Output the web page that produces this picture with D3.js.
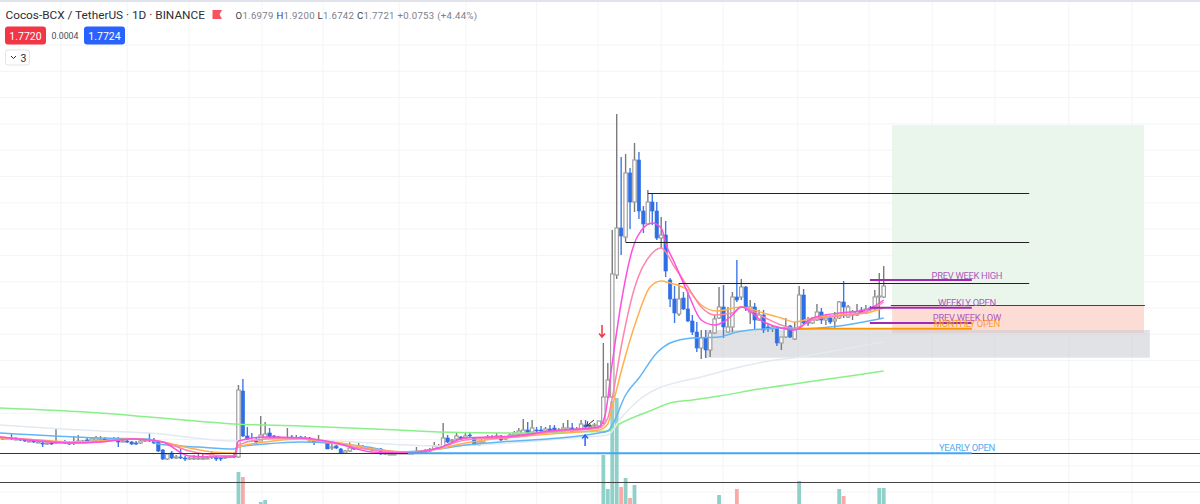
<!DOCTYPE html>
<html lang="en">
<head>
  <meta charset="utf-8">
  <title>Cocos-BCX / TetherUS</title>
  <style>
    html, body { margin:0; padding:0; background:#fff; overflow:hidden; }
    svg { display:block; }
    text { font-family:Roboto, sans-serif; }
    .grid line { stroke:#f3f4f6; stroke-width:1; }
    .wick { stroke-width:1.4; }
    .up .wick { stroke:#7b7b7b; }
    .down .wick { stroke:#3f78e8; }
    .up .body { fill:#fff; stroke:#a0a0a0; stroke-width:1.2; }
    .down .body { fill:#2f6fe6; stroke:#2f6fe6; stroke-width:.6; }
    .ema { fill:none; stroke-width:1.5; }
    .tag { font-size:9.4px; letter-spacing:-.3px; text-anchor:middle; dominant-baseline:central; }
    .ohlc { font-size:9.6px; fill:#7d808a; letter-spacing:.3px; }
    .ohlc .k { fill:#3a3d47; }
  </style>
</head>
<body>
  <div id="page"></div>
  <script src="https://d3js.org/d3.v7.min.js"></script>
  <script>
    // no price axis on the screenshot, levels are read off the picture in rough cents
    // [open, high, low, close], one row per day
    var candles = [
      [29,31,28,30],[30,31,29,30],[30,35,28,29],[29,31,28,29],[29,30,27,28],[28,29,26,27],[27,29,26,27],[27,28,25,26],
      [26,28,25,26],[25,27,21,24],[24,25,23,25],[25,26,23,24],[25,40,24,26],[26,27,25,26],[26,28,24,25],[25,27,23,24],
      [25,32,23,26],[26,33,25,27],[27,28,26,27],[28,31,26,27],[27,31,26,29],[28,32,27,30],[29,32,27,29],[29,31,27,28],
      [28,30,27,29],[29,31,28,29],[29,31,21,26],[27,28,26,27],[27,29,25,26],[26,27,23,24],[25,27,23,24],[25,28,24,27],
      [27,29,26,28],[28,35,26,27],[28,30,24,25],[26,27,16,17],[18,19,8,9],[9,15,8,14],[15,17,9,10],[11,13,9,11],
      [11,20,9,10],[10,12,7,9],[10,11,8,10],[10,13,8,10],[9,15,8,10],[10,14,8,10],[10,12,9,10],[11,17,9,14],
      [11,12,7,9],[10,11,7,9],[10,12,9,11],[11,13,10,12],[12,14,10,11],
      [11,83,10,78],[77,89,31,32],[32,41,26,27],[28,35,26,27],[27,31,24,26],[27,52,27,33],[30,46,28,34],[35,40,30,31],
      [32,33,30,31],[31,32,29,30],[30,31,29,30],[29,40,28,30],[31,33,29,30],[29,33,28,30],[31,32,29,30],[30,32,29,30],
      [30,31,26,27],[27,28,23,26],[26,33,25,27],[27,28,25,27],[27,28,19,19],[20,24,18,21],[22,23,19,20],[19,20,14,15],
      [15,18,14,17],[17,27,16,20],[20,21,18,19],[19,25,18,22],[21,23,19,20],[20,21,18,19],[19,20,17,18],[19,20,17,18],
      [19,20,13,14],[14,16,13,15],[14,15,13,14],[14,15,13,14],[15,16,14,15],[15,16,14,15],[15,16,14,15],[15,16,14,15],
      [15,21,14,16],[16,18,15,16],[16,19,15,17],[17,20,16,18],[19,26,18,22],[20,24,19,22],[20,45,19,30],[30,33,25,26],
      [27,29,26,28],[29,35,28,32],[31,32,28,29],[30,36,29,32],[33,35,31,32],[30,31,22,23],[23,27,22,26],[26,31,25,30],
      [29,33,28,31],[30,33,29,31],[31,35,30,32],[32,33,27,28],[29,32,28,30],[31,35,30,33],[33,37,32,35],[34,40,33,37],
      [34,49,33,38],[38,46,34,35],[36,48,35,40],[38,41,34,37],[38,42,35,37],[37,41,36,39],[39,43,35,37],[40,43,36,36],
      [37,40,36,38],[36,45,35,40],[38,48,37,40],[40,45,36,36],[37,41,36,39],[39,48,38,44],[43,48,40,41],[41,44,40,42],
      [42,45,41,43],[42,47,41,47],
      [45,125,44,71],[71,105,70,88],[71,238,70,194],[193,354,189,240],[240,311,213,232],[231,314,226,295],[295,300,239,266],
      [266,325,256,308],[308,316,249,257],[257,262,235,244],[244,278,243,266],[266,275,243,257],[257,266,228,230],
      [230,251,220,233],[233,247,191,197],[188,190,161,169],[169,182,145,155],[154,185,152,169],[170,176,158,159],
      [159,176,146,147],[147,153,133,136],[136,146,116,120],[120,138,109,130],[130,138,110,118],[118,138,111,135],
      [135,153,134,149],[150,181,149,161],[161,183,130,141],[136,161,135,141],[141,176,136,171],[171,208,166,168],
      [171,189,168,181],[181,182,157,161],[156,168,144,161],[161,165,138,148],[148,158,147,153],[153,158,135,138],
      [141,144,136,139],[139,143,136,141],[140,142,122,125],[125,131,118,131],[131,150,130,141],[142,143,130,131],
      [129,146,128,139],[139,182,138,173],[173,179,143,145],[147,151,142,145],[145,150,144,148],[148,164,147,156],
      [156,160,144,148],[148,153,143,150],[150,152,144,146],[147,156,140,149],[150,167,149,166],[166,187,150,161],
      [151,163,150,161],[153,158,148,156],[153,164,152,156],[158,161,154,155],[155,163,154,159],[160,162,157,158],
      [159,178,158,171],[171,195,149,172],[171,202,170,182]
    ];

    // volume only shows above the bottom edge on these days
    var volumeDays = [53,54,58,59,135,136,137,138,139,140,141,142,161,165,179,188,189,197,198];
    var volumes = [32,27,2,4,49,15,103,106,17,26,6,19,9,15,23,15,8,16,16];

    // moving averages, read at the bends
    var greenDays = [-0.6,22,33,52,67,89,98,115,128,136,139,146,150,155,161,170,184,198];
    var greenLevels = [60,55,51,44,42,38,36,35,36,37,45,58,65,68,72,79,88,97];
    var paleDays = [-0.6,22,33,52,60,70,98,128,136,139,143,148,152,157,162,171,179,188,198];
    var paleLevels = [43,37,35,27,29,28,22,30,33,50,68,81,86,91,97,106,111,118,126];
    var blueDays = [-0.6,22,33,35,44,52,53,59,67,82,89,98,104,112,125,134,136,137,140,143,147,150,155,161,165,171,175,178,188,198];
    var blueLevels = [35,30,29,24,21,19,21,24,26,21,16,19,23,26,30,35,37,43,73,90,115,125,130,131,136,139,140,139,142,150];
    var orangeDays = [-0.6,8,15,22,29,33,36,42,47,52,53,59,67,71,76,83,91,98,104,115,123,134,136,137,139.4,142.6,145.5,148,150,154,157,160.5,166,171,175,178,182,188,194,198];
    var orangeLevels = [30,28,26,27,29,28,26,20,16,15,21,26,29,27,25,19,16,19,25,31,34,38,44,61,103,150,181,187,185,178,163,157,161,155,150,146,150,153,155,160];
    var salmonDays = [-0.6,8,15,22,29,33,36,42,47,52,53,59,67,74,83,91,98,104,115,123,134,136,137,139,142,146,148,151,154,157,160,164,166,171,175,178,182,188,194,198];
    var salmonLevels = [31,28,25,26,29,28,26,17,13,12,23,29,30,25,18,16,20,28,31,36,40,50,70,121,180,215,220,201,181,161,153,155,161,151,143,140,148,152,156,166];
    var magentaDays = [-0.6,8,15,22,29,33,36,42,47,52,53,59,67,74,83,91,98,104,115,123,134,135.4,137,139,141.5,142.6,146,148,149.3,150.7,154,157,160,162,164,166,171,175,178,182,188,194,198];
    var magentaLevels = [31,27,25,26,29,28,26,12,11,11,27,31,30,26,16,15,20,30,32,37,41,53,105,165,218,231,245,240,221,208,175,148,143,146,153,161,146,140,138,150,155,158,168];

    var gridDays = [13.1,28,41.9,58.3,72,89.1,104.1,120,133.8,148,161.9,178.7,194.7,208.9,223,239.6,253.8];
    var gridLevels = [423,396.7,370.4,344.1,317.8,291.5,265.2,238.9,212.6,186.3,160,133.7,107.4,81.1,54.8,28.5,2.2,-24.1];

    // drawn levels: [day from, day to, level, colour, width]
    var drawnLines = [
      [145,230.7,274.5,"#222",1],
      [140,230.7,225.5,"#222",1],
      [152,230.7,184.5,"#222",1],
      [199.6,256.7,162.5,"#444",1],
      [-1,270,14.5,"#333",1.2],
      [-1,270,-14.5,"#444",1.2],
      [91.1,217.8,14.7,"#42a5f5",2],
      [194.9,217.8,188,"#a12ab3",2],
      [194.9,217.8,160.3,"#a12ab3",2],
      [194.9,217.8,145,"#a12ab3",2],
      [179.2,217.8,139.3,"#ff9800",2]
    ];
    var tagNames = ["PREV WEEK HIGH","WEEKLY OPEN","PREV WEEK LOW","MONTHLY OPEN","YEARLY OPEN"];
    var tagLevels = [193,166,151,145,21];
    var tagColours = ["#ab5cbd","#ab5cbd","#b255c0","#ff9d33","#55aaf2"];

    var W = 1200, H = 504;

    var x = d3.scaleLinear().domain([0,198]).range([2.6,883.7]);
    var y = d3.scaleLinear().domain([0,468]).range([468,0]);
    var volumeY = d3.scaleLinear().domain([0,504]).range([504,0]);

    var svg = d3.select("#page").append("svg").attr("width",W).attr("height",H);

    svg.append("rect").attr("width",W).attr("height",2).attr("fill","#e0e3eb");

    // grid
    var grid = svg.append("g").attr("class","grid");
    grid.selectAll(".v").data(gridDays).enter().append("line").attr("class","v")
        .attr("x1",x).attr("x2",x).attr("y1",2).attr("y2",H);
    grid.selectAll(".h").data(gridLevels).enter().append("line").attr("class","h")
        .attr("x1",0).attr("x2",W).attr("y1",y).attr("y2",y);

    // position tool and support box
    function zone(d0, d1, top, bottom, colour){
      svg.append("rect")
          .attr("x",x(d0)).attr("width",x(d1) - x(d0))
          .attr("y",y(top)).attr("height",y(bottom) - y(top))
          .attr("fill",colour);
    }
    zone(199.9,256.5,343,162.5,"#eaf5eb");
    zone(199.9,256.5,162.5,135,"#fddcd6");
    zone(157.8,257.8,138,110.3,"rgba(200,202,207,.55)");

    // volume
    svg.append("g").selectAll("rect").data(volumeDays).enter().append("rect")
        .attr("x",function(d){ return x(d) - 1.9; })
        .attr("width",3.8)
        .attr("y",function(d, i){ return volumeY(volumes[i]); })
        .attr("height",function(d, i){ return H - volumeY(volumes[i]); })
        .attr("fill",function(d){
          var c = candles[d];
          return c[3] >= c[0] ? "#8fd0c8" : "#f7aaa6";
        });

    // candles
    var candle = svg.append("g").selectAll("g").data(candles).enter().append("g")
        .attr("class",function(d){ return d[3] >= d[0] ? "up" : "down"; });
    candle.append("line").attr("class","wick")
        .attr("x1",function(d, i){ return x(i); })
        .attr("x2",function(d, i){ return x(i); })
        .attr("y1",function(d){ return y(d[1]); })
        .attr("y2",function(d){ return y(d[2]); });
    candle.append("rect").attr("class","body")
        .attr("x",function(d, i){ return x(i) - 1.7; })
        .attr("width",3.4)
        .attr("y",function(d){ return y(Math.max(d[0],d[3])); })
        .attr("height",function(d){ return Math.max(1,Math.abs(y(d[0]) - y(d[3]))); });

    // averages
    function ema(days, levels, colour){
      var line = d3.line()
          .x(function(d){ return x(d); })
          .y(function(d, i){ return y(levels[i]); })
          .curve(d3.curveMonotoneX);
      svg.append("path").attr("class","ema").attr("d",line(days)).attr("stroke",colour);
    }
    ema(greenDays,greenLevels,"#8af08a");
    ema(paleDays,paleLevels,"#e3e9f1");
    ema(blueDays,blueLevels,"#64b5f6");
    ema(orangeDays,orangeLevels,"#ffb04d");
    ema(salmonDays,salmonLevels,"#ff85ad");
    ema(magentaDays,magentaLevels,"#ff4fdd");

    // horizontal levels
    svg.append("g").selectAll("line").data(drawnLines).enter().append("line")
        .attr("x1",function(d){ return x(d[0]); })
        .attr("x2",function(d){ return x(d[1]); })
        .attr("y1",function(d){ return y(d[2]); })
        .attr("y2",function(d){ return y(d[2]); })
        .attr("stroke",function(d){ return d[3]; })
        .attr("stroke-width",function(d){ return d[4]; });

    svg.append("g").selectAll("text").data(tagNames).enter().append("text")
        .attr("class","tag")
        .attr("x",x(216.7))
        .attr("y",function(d, i){ return y(tagLevels[i]); })
        .attr("fill",function(d, i){ return tagColours[i]; })
        .text(function(d){ return d; });

    // arrows
    function arrow(d0, l0, d1, l1, colour, w){
      var x0 = x(d0), y0 = y(l0), x1 = x(d1), y1 = y(l1);
      var a = Math.atan2(y1 - y0, x1 - x0), h = 4.5;
      svg.append("path")
          .attr("d","M" + x0 + "," + y0 + "L" + x1 + "," + y1
            + "M" + (x1 - h * Math.cos(a - .7)) + "," + (y1 - h * Math.sin(a - .7))
            + "L" + x1 + "," + y1
            + "L" + (x1 - h * Math.cos(a + .7)) + "," + (y1 - h * Math.sin(a + .7)))
          .attr("fill","none").attr("stroke",colour).attr("stroke-width",w);
    }
    arrow(134.7,143,134.7,131,"#f23645",1.5);
    arrow(130.9,22,130.9,33,"#2962ff",1.5);
    arrow(132.9,48,131.3,42.3,"#333",1);

    // header
    svg.append("text").attr("x",5.5).attr("y",19)
        .attr("font-size",11.8).attr("fill","#2a2e39")
        .text("Cocos-BCX / TetherUS · 1D · BINANCE");
    svg.append("path").attr("d","M212.5,10H222L219.5,14.5L222,19H212.5Z").attr("fill","#f7525f");

    var ohlc = svg.append("text").attr("class","ohlc").attr("x",235.5).attr("y",19);
    [["O","1.6979"],["H","1.9200"],["L","1.6742"],["C","1.7721"]].forEach(function(p){
      ohlc.append("tspan").attr("class","k").text(p[0]);
      ohlc.append("tspan").text(p[1] + " ");
    });
    ohlc.append("tspan").text("+0.0753 (+4.44%)");

    function badge(bx, label, colour){
      svg.append("rect").attr("x",bx).attr("y",26.5).attr("width",41).attr("height",18)
          .attr("rx",3).attr("fill",colour);
      svg.append("text").attr("x",bx + 20.5).attr("y",39.5).attr("text-anchor","middle")
          .attr("font-size",10.5).attr("fill","#fff").text(label);
    }
    badge(5,"1.7720","#f23645");
    badge(84,"1.7724","#2962ff");
    svg.append("text").attr("x",65).attr("y",39).attr("text-anchor","middle")
        .attr("font-size",8.8).attr("fill","#4a4e59").text("0.0004");

    svg.append("rect").attr("x",5.5).attr("y",50).attr("width",24).attr("height",15).attr("rx",2.5)
        .attr("fill","#fff").attr("stroke","#e0e3eb");
    svg.append("path").attr("d","M11,56L13.5,58.5L16,56").attr("fill","none").attr("stroke","#2a2e39");
    svg.append("text").attr("x",20.5).attr("y",61.5).attr("font-size",10.5).attr("fill","#2a2e39").text("3");
  </script>
</body>
</html>
